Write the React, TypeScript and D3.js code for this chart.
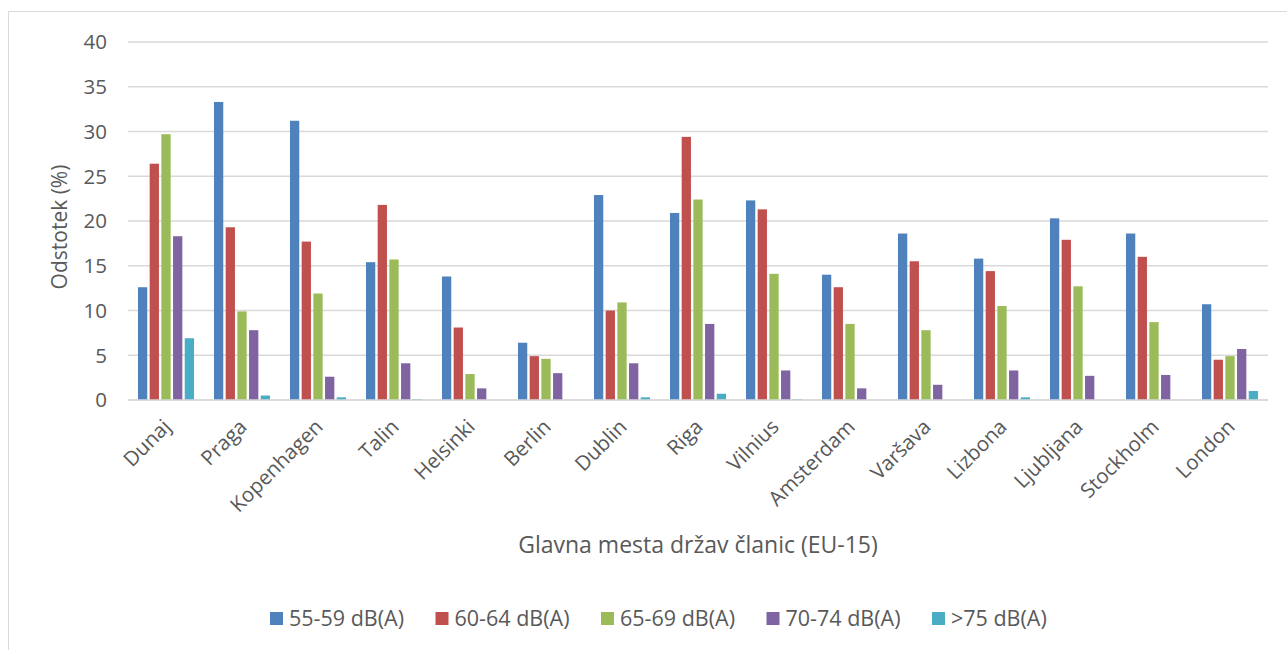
import React from "react";
import * as d3 from "d3";

// Capital cities (EU-15) and noise band shares, in percent
const cities = [
  "Dunaj", "Praga", "Kopenhagen", "Talin", "Helsinki", "Berlin", "Dublin", "Riga",
  "Vilnius", "Amsterdam", "Varšava", "Lizbona", "Ljubljana", "Stockholm", "London",
];
const seriesNames = ["55-59 dB(A)", "60-64 dB(A)", "65-69 dB(A)", "70-74 dB(A)", ">75 dB(A)"];
const band55 = [12.6, 33.3, 31.2, 15.4, 13.8, 6.4, 22.9, 20.9, 22.3, 14.0, 18.6, 15.8, 20.3, 18.6, 10.7];
const band60 = [26.4, 19.3, 17.7, 21.8, 8.1, 4.9, 10.0, 29.4, 21.3, 12.6, 15.5, 14.4, 17.9, 16.0, 4.5];
const band65 = [29.7, 9.9, 11.9, 15.7, 2.9, 4.6, 10.9, 22.4, 14.1, 8.5, 7.8, 10.5, 12.7, 8.7, 4.9];
const band70 = [18.3, 7.8, 2.6, 4.1, 1.3, 3.0, 4.1, 8.5, 3.3, 1.3, 1.7, 3.3, 2.7, 2.8, 5.7];
const band75 = [6.9, 0.5, 0.3, 0.1, 0, 0, 0.3, 0.7, 0.1, 0, 0, 0.3, 0, 0, 1.0];
const yTicks = [0, 5, 10, 15, 20, 25, 30, 35, 40];
const colors = ["#4f81bd", "#c0504d", "#9bbb59", "#8064a2", "#4bacc6"];

const seriesValues = [band55, band60, band65, band70, band75];

const W = 1287;
const H = 650;
const plot = { left: 128, right: 1268, top: 42, bottom: 400 };
const FONT = "'Open Sans', sans-serif";
const TEXT = "#595959";
const GRID = "#d9d9d9";

export default function App() {
  const x0 = d3.scaleBand<string>().domain(cities).range([plot.left, plot.right]).paddingInner(0).paddingOuter(0);
  const groupW = (x0.bandwidth() * 5) / 6.5;
  const x1 = d3
    .scaleBand<number>()
    .domain(d3.range(seriesNames.length))
    .range([(x0.bandwidth() - groupW) / 2, (x0.bandwidth() + groupW) / 2]);
  const y = d3.scaleLinear().domain([0, 40]).range([plot.bottom, plot.top]);
  const gap = 2.4;

  const legendX0 = 270;
  const legendStep = 165.5;

  return (
    <svg
      width={W}
      height={H}
      style={{ position: "absolute", left: 0, top: 0, background: "#fff" }}
      fontFamily={FONT}
    >
      {/* chart frame */}
      <rect x={8.5} y={11.5} width={W + 20} height={H + 20} fill="#fff" stroke={GRID} strokeWidth={1} />

      {/* gridlines and y tick labels */}
      {yTicks.map((t) => (
        <g key={t}>
          <line x1={plot.left} x2={plot.right} y1={y(t)} y2={y(t)} stroke={GRID} strokeWidth={1.3} />
          <text x={107} y={y(t)} dy="0.36em" textAnchor="end" fontSize={20.5} fill={TEXT}>
            {t}
          </text>
        </g>
      ))}

      {/* bars */}
      {cities.map((c, ci) => (
        <g key={c} transform={`translate(${x0(c)},0)`}>
          {seriesValues.map((vals, si) => {
            const v = vals[ci];
            if (v <= 0) return null;
            return (
              <rect
                key={si}
                x={(x1(si) as number) + gap / 2}
                y={y(v)}
                width={x1.bandwidth() - gap}
                height={y(0) - y(v)}
                fill={colors[si]}
              />
            );
          })}
        </g>
      ))}

      {/* x axis line */}
      <line x1={plot.left} x2={plot.right} y1={y(0)} y2={y(0)} stroke={GRID} strokeWidth={1.3} />

      {/* category labels */}
      {cities.map((c) => {
        const cx = (x0(c) as number) + x0.bandwidth() / 2 + 1;
        const cy = plot.bottom + 23;
        return (
          <text
            key={c}
            transform={`translate(${cx},${cy}) rotate(-45)`}
            textAnchor="end"
            dy="0.35em"
            fontSize={20.5}
            fill={TEXT}
          >
            {c}
          </text>
        );
      })}

      {/* axis titles */}
      <text
        transform={`translate(67,${(plot.top + plot.bottom) / 2 + 6}) rotate(-90)`}
        textAnchor="middle"
        fontSize={21}
        fill={TEXT}
      >
        Odstotek (%)
      </text>
      <text x={(plot.left + plot.right) / 2} y={553} textAnchor="middle" fontSize={23} fill={TEXT}>
        Glavna mesta držav članic (EU-15)
      </text>

      {/* legend */}
      {seriesNames.map((s, i) => {
        const lx = legendX0 + i * legendStep;
        return (
          <g key={s}>
            <rect x={lx} y={612} width={13} height={13} fill={colors[i]} />
            <text x={lx + 19} y={626} fontSize={21.5} fill={TEXT}>
              {s}
            </text>
          </g>
        );
      })}
    </svg>
  );
}
